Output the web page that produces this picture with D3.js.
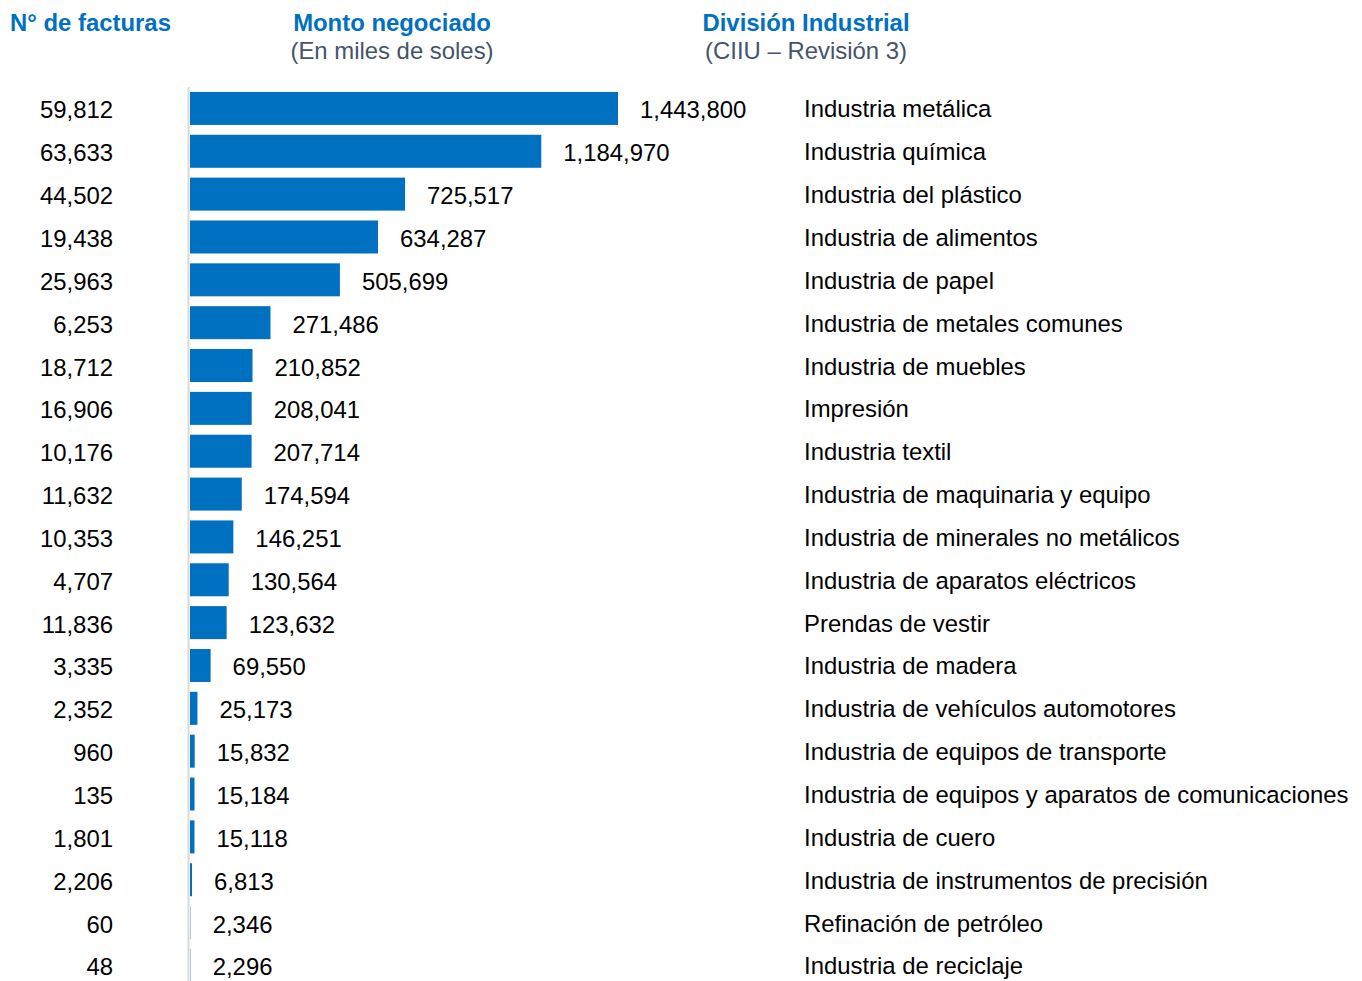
<!DOCTYPE html>
<html>
<head>
<meta charset="utf-8">
<script src="https://cdn.jsdelivr.net/npm/d3@7"></script>
<style>
  body { margin: 0; background: #fff; }
  text { font-family: "Liberation Sans", Arial, sans-serif; }
</style>
</head>
<body>
<svg width="1362" height="981"></svg>
<script>
const categories = [
  'Industria metálica', 'Industria química', 'Industria del plástico', 'Industria de alimentos',
  'Industria de papel', 'Industria de metales comunes', 'Industria de muebles', 'Impresión',
  'Industria textil', 'Industria de maquinaria y equipo', 'Industria de minerales no metálicos',
  'Industria de aparatos eléctricos', 'Prendas de vestir', 'Industria de madera',
  'Industria de vehículos automotores', 'Industria de equipos de transporte',
  'Industria de equipos y aparatos de comunicaciones', 'Industria de cuero',
  'Industria de instrumentos de precisión', 'Refinación de petróleo', 'Industria de reciclaje'
]
const montos = [1443800, 1184970, 725517, 634287, 505699, 271486, 210852, 208041, 207714, 174594,
  146251, 130564, 123632, 69550, 25173, 15832, 15184, 15118, 6813, 2346, 2296]
const facturas = [59812, 63633, 44502, 19438, 25963, 6253, 18712, 16906, 10176, 11632,
  10353, 4707, 11836, 3335, 2352, 960, 135, 1801, 2206, 60, 48]

const svg = d3.select('svg')
const fs = 23.9
const fmt = d3.format(',')
const blue = '#0070C0'
const grey = '#44546A'

const y = d3.scaleBand()
  .domain(categories)
  .range([87, 87 + 21 * 42.85])
  .paddingInner(0.23)
  .paddingOuter(0.115)

const x = d3.scaleLinear()
  .domain([0, 1443800])
  .range([190, 618])

// headers
const headers = [
  { t: 'N° de facturas', x: 10, anchor: 'start' },
  { t: 'Monto negociado', sub: '(En miles de soles)', x: 392, anchor: 'middle' },
  { t: 'División Industrial', sub: '(CIIU – Revisión 3)', x: 806, anchor: 'middle' }
]
headers.forEach(h => {
  svg.append('text')
    .attr('x', h.x).attr('y', 31)
    .attr('text-anchor', h.anchor)
    .style('font-size', fs + 'px')
    .style('font-weight', 'bold')
    .style('fill', blue)
    .text(h.t)
  if (h.sub) {
    svg.append('text')
      .attr('x', h.x).attr('y', 59)
      .attr('text-anchor', h.anchor)
      .style('font-size', fs + 'px')
      .style('fill', grey)
      .text(h.sub)
  }
})

// axis line
svg.append('line')
  .attr('x1', 188.5).attr('x2', 188.5)
  .attr('y1', 87).attr('y2', 981)
  .style('stroke', '#d9d9d9')
  .style('stroke-width', 2)

const row = svg.selectAll('.row')
  .data(categories)
  .enter()
  .append('g')
  .attr('class', 'row')

row.append('rect')
  .attr('x', x(0))
  .attr('y', d => y(d))
  .attr('width', (d, i) => Math.max(x(montos[i]) - x(0), 0.8))
  .attr('height', y.bandwidth())
  .attr('fill', (d, i) => montos[i] < 5000 ? '#9dc3e6' : blue)

const mid = d => y(d) + y.bandwidth() / 2 + 10

row.append('text')
  .attr('x', (d, i) => x(montos[i]) + 22)
  .attr('y', mid)
  .style('font-size', fs + 'px')
  .style('fill', '#000')
  .text((d, i) => fmt(montos[i]))

row.append('text')
  .attr('x', 113)
  .attr('y', mid)
  .attr('text-anchor', 'end')
  .style('font-size', fs + 'px')
  .style('fill', '#000')
  .text((d, i) => fmt(facturas[i]))

row.append('text')
  .attr('x', 804)
  .attr('y', d => mid(d) - 1)
  .style('font-size', fs + 'px')
  .style('fill', '#000')
  .text(d => d)
</script>
</body>
</html>
